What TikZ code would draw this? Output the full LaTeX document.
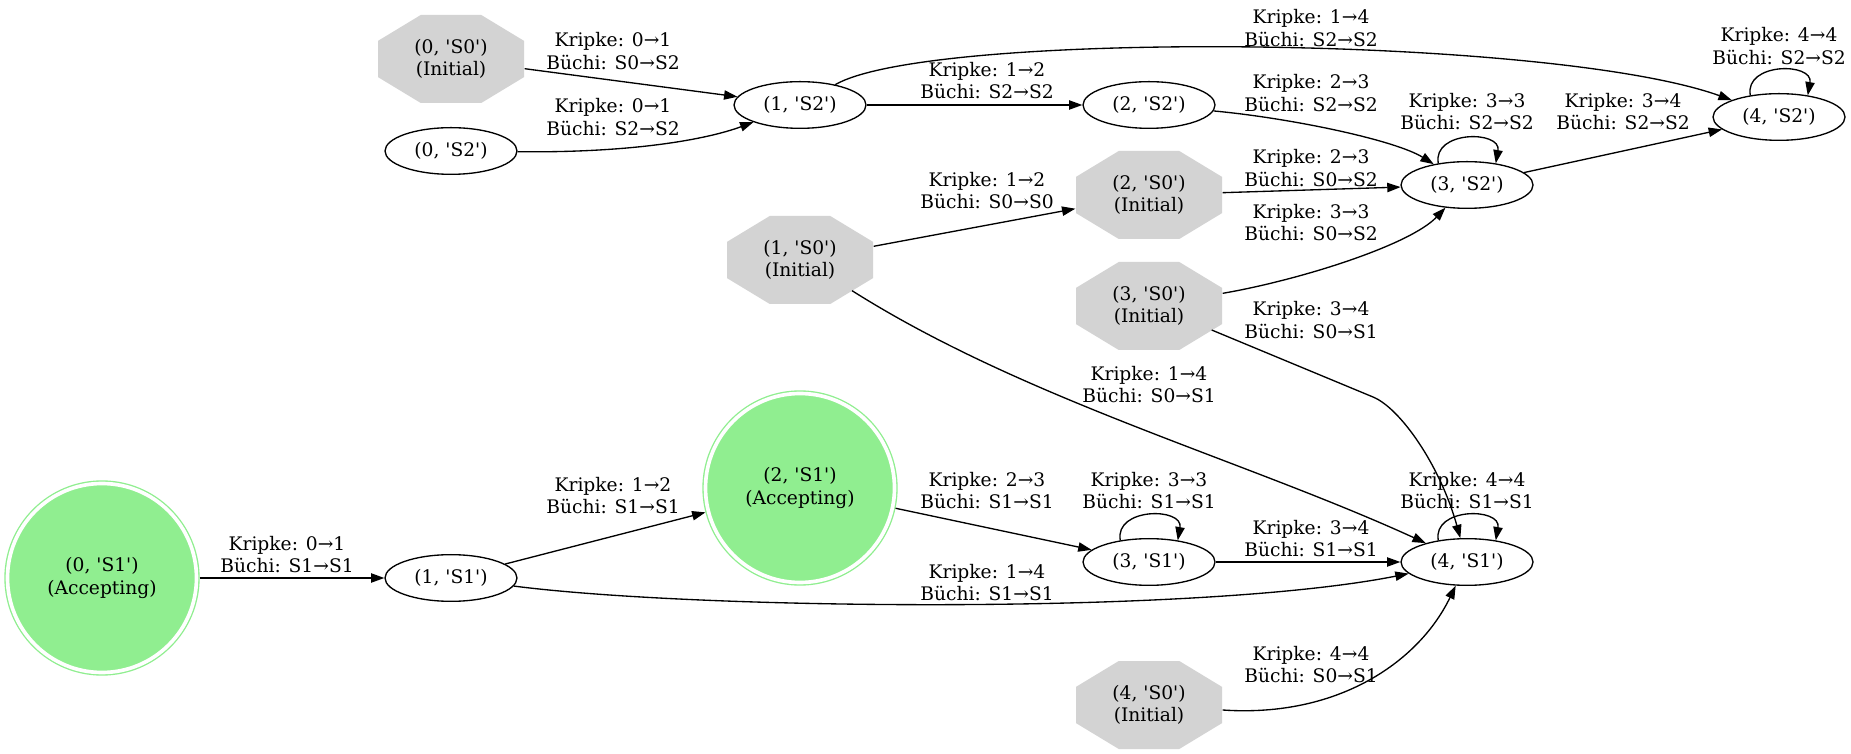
\documentclass[tikz,border=0pt]{standalone}
\usepackage{fontspec}
\setmainfont{DejaVu Serif}[Ligatures=TeXOff]
\usepackage{tikz}
\usetikzlibrary{arrows.meta,shapes.geometric}
\definecolor{accgreen}{HTML}{90EE90}
\definecolor{initgray}{HTML}{D3D3D3}
\tikzstyle{kstate}=[ellipse,draw=black,minimum width=99pt,minimum height=35pt,inner sep=0pt]
\tikzstyle{accstate}=[circle,fill=accgreen,draw=accgreen,double=white,double distance=2.75pt,
minimum size=141.75pt,inner sep=0pt,outer sep=2.375pt,align=center]
\tikzstyle{initstate}=[rectangle,minimum width=109.5pt,minimum height=66pt,inner sep=0pt,align=center,
path picture={\fill[initgray] ([yshift=13.6pt]path picture bounding box.west)
 -- ([xshift=-22.7pt]path picture bounding box.north) -- ([xshift=22.7pt]path picture bounding box.north)
 -- ([yshift=13.6pt]path picture bounding box.east) -- ([yshift=-13.6pt]path picture bounding box.east)
 -- ([xshift=22.7pt]path picture bounding box.south) -- ([xshift=-22.7pt]path picture bounding box.south)
 -- ([yshift=-13.6pt]path picture bounding box.west) -- cycle;}]
\tikzstyle{trans}=[align=center,inner sep=0pt]
\tikzstyle{selfloop}=[out=100,in=80,looseness=1.5]

\begin{document}
\begin{tikzpicture}[x=0.75pt,y=0.75pt,>={Triangle[length=10pt,width=7pt]},line width=1pt,
  font=\fontsize{14}{16.8}\selectfont]
  \useasboundingbox (0,0) rectangle (1851,753);
  % The product states, placed at coordinates (one column per Kripke step):
  % Column 0
  \node (k0s1) [accstate]  at (102,175) {(0, 'S1')\\(Accepting)};
  % Column 1
  \node (k0s0) [initstate] at (451,694) {(0, 'S0')\\(Initial)};
  \node (k0s2) [kstate]    at (451,602) {(0, 'S2')};
  \node (k1s1) [kstate]    at (451,175) {(1, 'S1')};
  % Column 2
  \node (k1s2) [kstate]    at (800,648) {(1, 'S2')};
  \node (k1s0) [initstate] at (800,493) {(1, 'S0')\\(Initial)};
  \node (k2s1) [accstate]  at (800,265) {(2, 'S1')\\(Accepting)};
  % Column 3
  \node (k2s2) [kstate]    at (1149,648) {(2, 'S2')};
  \node (k2s0) [initstate] at (1149,558) {(2, 'S0')\\(Initial)};
  \node (k3s0) [initstate] at (1149,447) {(3, 'S0')\\(Initial)};
  \node (k3s1) [kstate]    at (1149,191) {(3, 'S1')};
  \node (k4s0) [initstate] at (1149,48)  {(4, 'S0')\\(Initial)};
  % Column 4
  \node (k3s2) [kstate]    at (1467,568) {(3, 'S2')};
  \node (k4s1) [kstate]    at (1467,191) {(4, 'S1')};
  % Column 5
  \node (k4s2) [kstate]    at (1779,636) {(4, 'S2')};

  % The transitions are now connected through arrows:
  \path[->]
    (k0s1) edge (k1s1)
    (k1s1) edge (k2s1)
    (k2s1) edge (k3s1)
    (k3s1) edge (k4s1)

    (k0s0) edge (k1s2)
    (k1s2) edge (k2s2)
    (k1s0) edge (k2s0)
    (k2s0) edge (k3s2)
    (k3s2) edge (k4s2)

    (k3s1.143) edge[selfloop] (k3s1.37)
    (k4s1.143) edge[selfloop] (k4s1.37)
    (k3s2.143) edge[selfloop] (k3s2.37)
    (k4s2.143) edge[selfloop] (k4s2.37)
    ;
  % Curved transitions
  \draw[->] (k1s1) .. controls (700,143) and (1200,138) .. (k4s1);
  \draw[->] ([shift={(39pt,-23pt)}]k1s0.center) .. controls (1025,353) and (1244,293) .. (k4s1);
  \draw[->] ([shift={(47pt,-18pt)}]k3s0.center) -- (1373,356) .. controls (1400,345) and (1440,288) .. (k4s1);
  \draw[->] (k4s0) .. controls (1340,35) and (1420,93) .. (k4s1);
  \draw[->] (k0s2) .. controls (630,600) and (705,613) .. (k1s2);
  \draw[->] (k1s2) .. controls (930,723) and (1550,718) .. (k4s2);
  \draw[->] (k2s2) .. controls (1290,635) and (1395,613) .. (k3s2);
  \draw[->] (k3s0) .. controls (1300,473) and (1410,508) .. (k3s2);

  % Transition labels
  \node (t-k0s1-k1s1) [trans] at (287,198.5)  {Kripke: 0→1\\Büchi: S1→S1};
  \node (t-k1s1-k2s1) [trans] at (613,257.5)  {Kripke: 1→2\\Büchi: S1→S1};
  \node (t-k1s1-k4s1) [trans] at (987,170.5)  {Kripke: 1→4\\Büchi: S1→S1};
  \node (t-k2s1-k3s1) [trans] at (987,262.5)  {Kripke: 2→3\\Büchi: S1→S1};
  \node (t-k3s1-k3s1) [trans] at (1149,262.5) {Kripke: 3→3\\Büchi: S1→S1};
  \node (t-k3s1-k4s1) [trans] at (1311,214.5) {Kripke: 3→4\\Büchi: S1→S1};
  \node (t-k4s1-k4s1) [trans] at (1467,262.5) {Kripke: 4→4\\Büchi: S1→S1};
  \node (t-k1s0-k4s1) [trans] at (1149,368.5) {Kripke: 1→4\\Büchi: S0→S1};
  \node (t-k3s0-k4s1) [trans] at (1311,433)   {Kripke: 3→4\\Büchi: S0→S1};
  \node (t-k4s0-k4s1) [trans] at (1311,88.5)  {Kripke: 4→4\\Büchi: S0→S1};
  \node (t-k0s0-k1s2) [trans] at (613,702)    {Kripke: 0→1\\Büchi: S0→S2};
  \node (t-k0s2-k1s2) [trans] at (613,636)    {Kripke: 0→1\\Büchi: S2→S2};
  \node (t-k1s2-k2s2) [trans] at (987,672.5)  {Kripke: 1→2\\Büchi: S2→S2};
  \node (t-k1s2-k4s2) [trans] at (1311,725)   {Kripke: 1→4\\Büchi: S2→S2};
  \node (t-k2s2-k3s2) [trans] at (1311,660)   {Kripke: 2→3\\Büchi: S2→S2};
  \node (t-k2s0-k3s2) [trans] at (1311,585)   {Kripke: 2→3\\Büchi: S0→S2};
  \node (t-k3s0-k3s2) [trans] at (1311,530.5) {Kripke: 3→3\\Büchi: S0→S2};
  \node (t-k3s2-k3s2) [trans] at (1467,641.5) {Kripke: 3→3\\Büchi: S2→S2};
  \node (t-k3s2-k4s2) [trans] at (1623,641.5) {Kripke: 3→4\\Büchi: S2→S2};
  \node (t-k4s2-k4s2) [trans] at (1779,707)   {Kripke: 4→4\\Büchi: S2→S2};
  \node (t-k1s0-k2s0) [trans] at (987,562.5)  {Kripke: 1→2\\Büchi: S0→S0};
\end{tikzpicture}
\end{document}
